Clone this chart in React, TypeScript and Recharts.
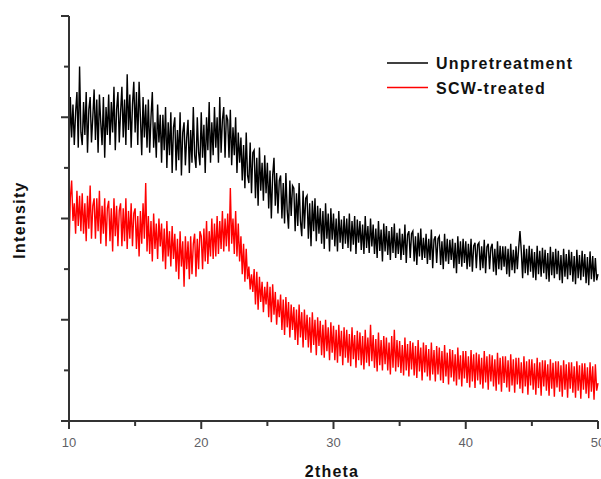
import React from 'react';
import { LineChart, Line, XAxis, YAxis } from 'recharts';

// 2theta sampling grid: 10.0 .. 50.0 in 0.1 steps
const THETA_START = 10;
const THETA_STEP = 0.1;

// Intensity (arbitrary units) of the unpretreated sample
const unpretreatment: number[] = [
  520, 640, 560, 625, 545, 610, 650, 540, 700, 570,
  545, 630, 565, 650, 530, 615, 640, 550, 600, 655,
  555, 635, 530, 645, 590, 545, 640, 520, 620, 565,
  645, 545, 630, 570, 660, 535, 615, 650, 550, 610,
  660, 560, 635, 545, 685, 575, 645, 540, 625, 670,
  570, 650, 545, 670, 600, 525, 640, 560, 625, 540,
  635, 530, 600, 650, 540, 590, 520, 625, 550, 605,
  510, 605, 535, 620, 500, 590, 525, 610, 490, 580,
  600, 495, 575, 515, 610, 485, 570, 590, 505, 560,
  595, 490, 575, 510, 620, 525, 500, 600, 530, 505,
  610, 520, 585, 490, 600, 535, 630, 510, 590, 525,
  620, 540, 600, 510, 640, 530, 595, 620, 520, 605,
  595, 520, 615, 505, 580, 525, 600, 490, 570, 510,
  560, 475, 545, 460, 570, 485, 470, 550, 450, 530,
  535, 440, 520, 425, 540, 455, 510, 435, 525, 450,
  510, 420, 495, 400, 485, 520, 425, 490, 410, 475,
  485, 400, 470, 390, 490, 415, 380, 475, 405, 465,
  460, 375, 450, 385, 470, 395, 365, 455, 380, 440,
  445, 360, 430, 345, 435, 375, 440, 355, 425, 370,
  420, 350, 415, 340, 430, 360, 410, 335, 420, 358,
  410, 345, 400, 335, 415, 352, 398, 340, 405, 350,
  400, 342, 410, 335, 395, 348, 405, 330, 398, 352,
  395, 338, 388, 330, 405, 342, 385, 332, 400, 345,
  388, 330, 380, 322, 395, 336, 378, 315, 390, 335,
  385, 328, 375, 318, 383, 332, 390, 322, 372, 330,
  380, 318, 370, 328, 388, 312, 368, 375, 322, 370,
  375, 315, 365, 308, 372, 325, 380, 318, 362, 322,
  370, 310, 360, 318, 378, 302, 358, 365, 312, 360,
  365, 308, 355, 300, 370, 315, 360, 310, 358, 318,
  360, 302, 352, 292, 365, 310, 355, 305, 360, 312,
  355, 300, 350, 305, 360, 295, 346, 352, 302, 348,
  352, 298, 345, 302, 358, 292, 344, 350, 300, 342,
  350, 295, 340, 288, 355, 300, 346, 298, 345, 305,
  345, 290, 340, 285, 350, 298, 338, 292, 345, 300,
  342, 375, 336, 282, 348, 292, 340, 288, 346, 295,
  340, 283, 334, 278, 346, 290, 336, 285, 342, 292,
  338, 280, 332, 275, 344, 288, 334, 282, 340, 290,
  336, 278, 328, 272, 340, 285, 330, 280, 338, 288,
  334, 275, 326, 270, 338, 282, 328, 278, 336, 285,
  330, 272, 324, 268, 335, 280, 326, 275, 322, 278,
  290,
];

// Intensity (arbitrary units) of the SCW-treated sample
const scwTreated: number[] = [
  330, 440, 475, 395, 430, 370, 455, 385, 445, 375,
  450, 370, 430, 355, 445, 380, 465, 360, 425, 440,
  360, 440, 375, 455, 350, 425, 370, 440, 345, 420,
  435, 355, 420, 335, 440, 365, 425, 345, 415, 430,
  345, 420, 355, 440, 340, 415, 360, 430, 345, 410,
  420, 340, 405, 325, 415, 350, 430, 360, 470, 335,
  405, 330, 395, 315, 410, 340, 390, 320, 400, 345,
  390, 315, 380, 300, 395, 325, 375, 305, 385, 320,
  370, 295, 360, 280, 375, 305, 355, 265, 365, 300,
  355, 280, 365, 290, 350, 370, 285, 360, 300, 375,
  365, 300, 380, 315, 395, 310, 375, 325, 400, 320,
  390, 325, 405, 330, 395, 340, 415, 335, 400, 345,
  410, 335, 460, 350, 400, 330, 415, 325, 390, 315,
  365, 290, 350, 275, 340, 280, 305, 260, 290, 255,
  300, 230, 295, 220, 285, 235, 275, 215, 265, 230,
  275, 205, 265, 195, 270, 210, 255, 190, 240, 205,
  250, 180, 240, 170, 245, 185, 235, 165, 230, 180,
  225, 160, 220, 150, 230, 165, 215, 145, 220, 160,
  210, 145, 205, 135, 215, 150, 200, 130, 205, 148,
  198, 130, 190, 125, 200, 138, 185, 120, 195, 135,
  188, 120, 180, 115, 190, 128, 178, 110, 185, 125,
  180, 115, 172, 108, 185, 122, 170, 105, 178, 120,
  175, 110, 168, 102, 180, 115, 165, 108, 190, 118,
  170, 105, 162, 98, 175, 110, 160, 100, 168, 112,
  165, 100, 155, 92, 168, 105, 180, 98, 160, 106,
  158, 95, 150, 90, 165, 100, 152, 88, 158, 102,
  155, 90, 148, 85, 160, 98, 145, 80, 155, 96,
  150, 88, 142, 80, 155, 92, 140, 78, 148, 92,
  145, 80, 138, 75, 150, 88, 135, 72, 142, 86,
  140, 78, 132, 70, 145, 82, 130, 68, 138, 84,
  138, 75, 128, 66, 140, 78, 132, 65, 135, 80,
  132, 72, 125, 64, 138, 76, 128, 62, 132, 78,
  130, 68, 122, 60, 135, 72, 125, 58, 128, 75,
  128, 66, 120, 58, 132, 70, 122, 56, 125, 72,
  125, 64, 116, 55, 128, 68, 118, 52, 122, 70,
  122, 62, 114, 52, 125, 65, 116, 50, 120, 68,
  120, 60, 112, 50, 122, 64, 115, 48, 118, 66,
  118, 58, 110, 48, 120, 62, 112, 46, 116, 64,
  116, 56, 108, 46, 118, 60, 110, 44, 114, 62,
  114, 54, 106, 45, 116, 58, 108, 42, 112, 60,
  75,
];

const xTicks = [10, 15, 20, 25, 30, 35, 40, 45, 50];
const xMajorTicks = [10, 20, 30, 40, 50];
const yTicks = [0, 100, 200, 300, 400, 500, 600, 700, 800];
const yMajorTicks = [0, 200, 400, 600, 800];

const seriesNames = ['Unpretreatment', 'SCW-treated'];
const seriesColors = ['#000000', '#ff0000'];

const data = unpretreatment.map((u, i) => ({
  x: Math.round((THETA_START + i * THETA_STEP) * 10) / 10,
  u,
  s: scwTreated[i],
}));

const FONT = '"Liberation Sans", Arial, sans-serif';
const AXIS = '#333333';

const XTick = (props: any) => {
  const { x, y, payload } = props;
  const major = xMajorTicks.includes(payload.value);
  return (
    <g>
      <line x1={x} x2={x} y1={y} y2={y + (major ? 8 : 5)} stroke={AXIS} strokeWidth={2} />
      {major && (
        <text x={x} y={y + 26} textAnchor="middle" fontSize={13} fontFamily={FONT} fill="#5f5f66">
          {payload.value}
        </text>
      )}
    </g>
  );
};

const YTick = (props: any) => {
  const { x, y, payload } = props;
  const major = yMajorTicks.includes(payload.value);
  return <line x1={x - (major ? 8 : 5)} x2={x} y1={y} y2={y} stroke={AXIS} strokeWidth={2} />;
};

const LegendMarks = () => (
  <g>
    {seriesNames.map((name, i) => (
      <g key={name}>
        <line x1={387} x2={428} y1={63 + i * 24.5} y2={63 + i * 24.5} stroke={seriesColors[i]} strokeWidth={1.5} />
        <text x={436} y={69 + i * 24.5} fontSize={16} fontWeight="bold" fontFamily={FONT} letterSpacing={1.3} fill="#111">
          {name}
        </text>
      </g>
    ))}
  </g>
);

const YTitleAndLegend = () => (
  <g>
    <text x={25} y={220} transform="rotate(-90 25 220)" textAnchor="middle" fontSize={16} fontWeight="bold" fontFamily={FONT} letterSpacing={1.3} fill="#111">
      Intensity
    </text>
    <LegendMarks />
  </g>
);

export default function App() {
  return (
    <div style={{ position: 'absolute', left: 0, top: 0, background: '#fff' }}>
      <LineChart width={601} height={479} data={data} margin={{ top: 16, right: 3, bottom: 0, left: 0 }}>
        <XAxis
          dataKey="x"
          type="number"
          domain={[10, 50]}
          ticks={xTicks}
          interval={0}
          height={58}
          tickSize={0}
          tickMargin={0}
          tickLine={false}
          axisLine={{ stroke: AXIS, strokeWidth: 2 }}
          tick={<XTick />}
          label={{
            content: () => (
              <text x={332} y={477} textAnchor="middle" fontSize={16} fontWeight="bold" fontFamily={FONT} letterSpacing={1.2} fill="#111">
                2theta
              </text>
            ),
          }}
        />
        <XAxis xAxisId="top" orientation="top" type="number" domain={[10, 50]} height={0} tick={false} tickLine={false} axisLine={{ stroke: AXIS, strokeWidth: 2 }} />
        <YAxis
          type="number"
          domain={[0, 800]}
          ticks={yTicks}
          interval={0}
          width={69}
          tickSize={0}
          tickMargin={0}
          tickLine={false}
          axisLine={{ stroke: AXIS, strokeWidth: 2 }}
          tick={<YTick />}
          label={{ content: () => <YTitleAndLegend /> }}
        />
        <YAxis yAxisId="right" orientation="right" type="number" domain={[0, 800]} width={0} tick={false} tickLine={false} axisLine={{ stroke: '#222', strokeWidth: 1.5 }} />
        <Line type="linear" dataKey="u" stroke={seriesColors[0]} strokeWidth={1.4} dot={false} isAnimationActive={false} />
        <Line type="linear" dataKey="s" stroke={seriesColors[1]} strokeWidth={1.4} dot={false} isAnimationActive={false} />
      </LineChart>
    </div>
  );
}
